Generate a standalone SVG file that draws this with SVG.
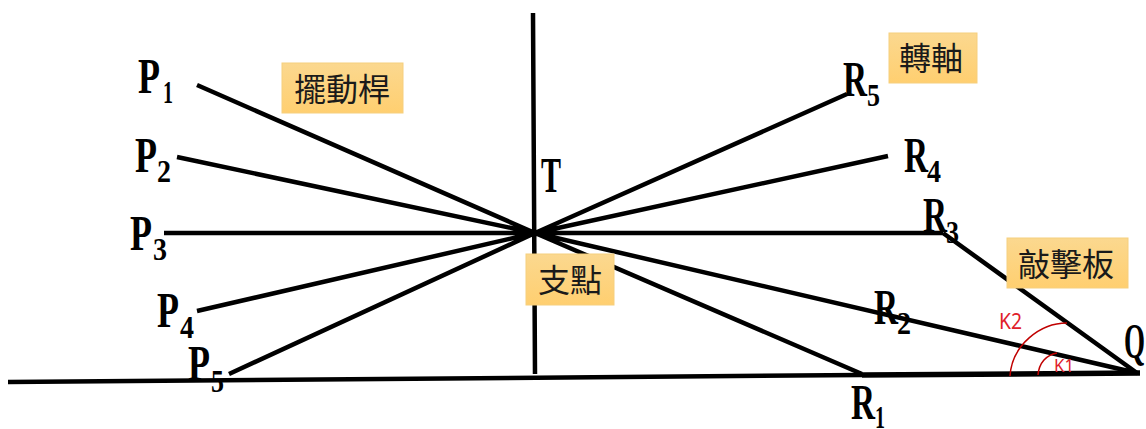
<svg xmlns="http://www.w3.org/2000/svg" width="1146" height="429" viewBox="0 0 1146 429">
<style>
.l{stroke:#000;stroke-width:4.5;fill:none;stroke-linecap:butt}
.a{stroke:#c00000;stroke-width:1.5;fill:none}
.m{font-family:"Liberation Serif",serif;font-weight:bold;font-size:50px;fill:#000}
.s{font-family:"Liberation Serif",serif;font-weight:bold;font-size:32px;fill:#000}
.k{font-family:"Noto Sans","Liberation Sans",sans-serif;fill:#e0202a}
.b{fill:url(#g);stroke:#f6cf7e;stroke-width:1}
.c{font-family:"Noto Sans CJK TC",sans-serif;font-size:32px;fill:#1a1a1a}
</style>
<defs><linearGradient id="g" x1="0" y1="0" x2="0" y2="1"><stop offset="0" stop-color="#fbd88f"/><stop offset="1" stop-color="#ffcf70"/></linearGradient></defs>
<g id="connectors">
<path class="l" d="M197 85L535 233M177 157L535 233M164 233H943M197 311L535 233M229 374L535 233M533 13L535 374M847 94L535 233M888 156L535 233M535 233L1137 373M535 233L862 374M943 233L1137 373"/>
<path class="l" d="M8 382L862 375"/>
<path class="l" style="stroke-width:5.5" d="M862 375L1140 373"/>
<path class="a" d="M1010 376C1012 345 1040 323 1067 323"/>
<path class="a" d="M1038 375C1039 363 1046 355 1057 353"/>
</g>
<g id="P1"><text class="m" x="138" y="93" textLength="22" lengthAdjust="spacingAndGlyphs">P</text><text class="s" x="163" y="103" textLength="10" lengthAdjust="spacingAndGlyphs">1</text></g>
<g id="P2"><text class="m" x="135" y="172" textLength="22" lengthAdjust="spacingAndGlyphs">P</text><text class="s" x="157" y="182" textLength="14" lengthAdjust="spacingAndGlyphs">2</text></g>
<g id="P3"><text class="m" x="130" y="250" textLength="22" lengthAdjust="spacingAndGlyphs">P</text><text class="s" x="153" y="260" textLength="14" lengthAdjust="spacingAndGlyphs">3</text></g>
<g id="P4"><text class="m" x="157" y="327" textLength="22" lengthAdjust="spacingAndGlyphs">P</text><text class="s" x="180" y="338" textLength="14" lengthAdjust="spacingAndGlyphs">4</text></g>
<g id="P5"><text class="m" x="188" y="380" textLength="22" lengthAdjust="spacingAndGlyphs">P</text><text class="s" x="211" y="392" textLength="13" lengthAdjust="spacingAndGlyphs">5</text></g>
<g id="T"><text class="m" x="541" y="192" textLength="20" lengthAdjust="spacingAndGlyphs">T</text></g>
<g id="R5"><text class="m" x="843" y="96" textLength="24" lengthAdjust="spacingAndGlyphs">R</text><text class="s" x="867" y="106" textLength="13" lengthAdjust="spacingAndGlyphs">5</text></g>
<g id="R4"><text class="m" x="904" y="172" textLength="24" lengthAdjust="spacingAndGlyphs">R</text><text class="s" x="927" y="182" textLength="14" lengthAdjust="spacingAndGlyphs">4</text></g>
<g id="R3"><text class="m" x="923" y="232" textLength="24" lengthAdjust="spacingAndGlyphs">R</text><text class="s" x="946" y="243" textLength="13" lengthAdjust="spacingAndGlyphs">3</text></g>
<g id="R2"><text class="m" x="874" y="324" textLength="24" lengthAdjust="spacingAndGlyphs">R</text><text class="s" x="897" y="334" textLength="14" lengthAdjust="spacingAndGlyphs">2</text></g>
<g id="R1"><text class="m" x="851" y="419" textLength="24" lengthAdjust="spacingAndGlyphs">R</text><text class="s" x="875" y="428" textLength="10" lengthAdjust="spacingAndGlyphs">1</text></g>
<g id="Q"><text class="m" x="1124" y="358" textLength="21" lengthAdjust="spacingAndGlyphs">Q</text></g>
<g id="K2"><text class="k" x="999" y="329" font-size="21" textLength="23" lengthAdjust="spacingAndGlyphs">K2</text></g>
<g id="K1"><text class="k" x="1054" y="372" font-size="18" textLength="20" lengthAdjust="spacingAndGlyphs">K1</text></g>
<g id="swing-rod"><rect class="b" x="282" y="63" width="121" height="50"/><text class="c" x="294" y="101">擺動桿</text></g>
<g id="fulcrum"><rect class="b" x="526" y="254" width="88" height="51"/><text class="c" x="538" y="292">支點</text></g>
<g id="pivot"><rect class="b" x="889" y="33" width="88" height="50"/><text class="c" x="899" y="70">轉軸</text></g>
<g id="strike-plate"><rect class="b" x="1007" y="238" width="121" height="50"/><text class="c" x="1018" y="276">敲擊板</text></g>
</svg>
